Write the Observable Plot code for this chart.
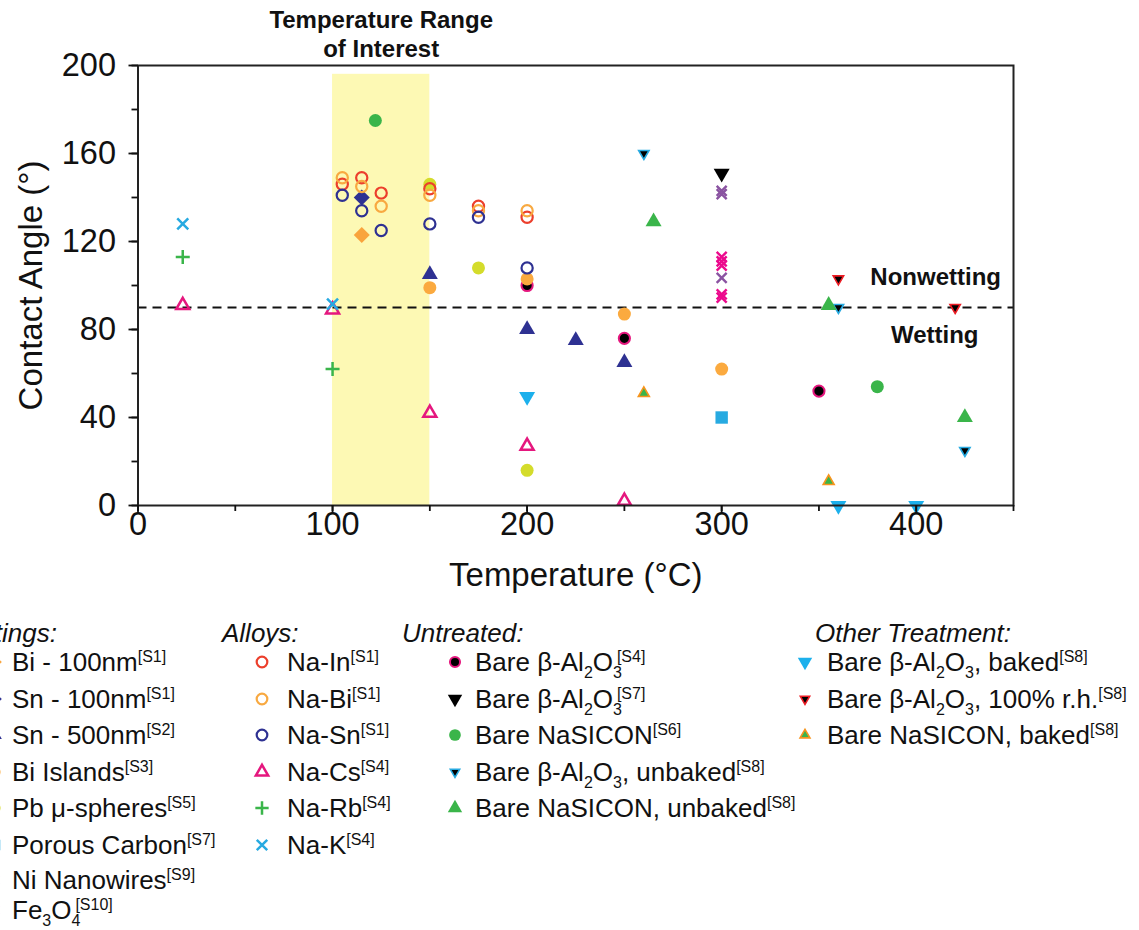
<!DOCTYPE html>
<html><head><meta charset="utf-8">
<script src="https://cdn.jsdelivr.net/npm/d3@7"></script>
<script src="https://cdn.jsdelivr.net/npm/@observablehq/plot@0.6"></script>
<style>
html,body{margin:0;padding:0;background:#fff;overflow:hidden;}
body{width:1139px;height:930px;font-family:"Liberation Sans",Arial,sans-serif;}
#chart svg{display:block;}
#legend{position:relative;width:1139px;height:330px;overflow:hidden;}
.lg{position:absolute;white-space:nowrap;font-size:26px;line-height:26px;color:#111;}
.hd{font-style:italic;}
.lg sup,.lg sub{font-size:16px;line-height:0;}
.lg sup{vertical-align:9px;}
.lg sub{vertical-align:-7px;}
.lg sup.stk{margin-left:-5px;}
.mk{position:absolute;overflow:visible;}
</style></head><body>
<div id="chart"></div><div id="legend"></div>
<script>
// ---------------- data ----------------
const xTicks = [0, 100, 200, 300, 400];
const xMinorTicks = [0, 50, 100, 150, 200, 250, 300, 350, 400, 450];
const yTicks = [0, 40, 80, 120, 160, 200];
const yMinorTicks = [0, 20, 40, 60, 80, 100, 120, 140, 160, 180, 200];
const interestRange = [100, 150];
const wettingLine = [90];

// Coatings: [temperature °C, contact angle °]
const bi100nm = [[115, 123]];
const sn100nm = [[115, 140]];
const sn500nm = [[150, 105], [200, 80], [225, 75], [250, 65]];
const biIslands = [[150, 99], [200, 103], [250, 87], [300, 62]];
const pbSpheres = [[150, 146], [175, 108], [200, 16]];
const porousCarbon = [[300, 40]];
const niNanowires = [[300, 143], [300, 141.5], [300, 103.5]];
const fe3o4 = [[300, 113], [300, 111], [300, 109], [300, 96], [300, 94.5]];
// Alloys
const naIn = [[105, 146], [115, 149], [125, 142], [150, 144], [175, 136], [200, 131]];
const naBi = [[105, 149], [115, 145], [125, 136], [150, 141], [175, 134], [200, 134]];
const naSn = [[105, 141], [115, 134], [125, 125], [150, 128], [175, 131], [200, 108]];
const naCs = [[23, 91], [100, 89], [150, 42], [200, 27], [250, 2]];
const naRb = [[23, 113], [100, 62]];
const naK = [[23, 128], [100, 91.5]];
// Untreated
const bareAlS4 = [[200, 100], [250, 76], [350, 52]];
const bareAlS7 = [[300, 151]];
const bareNasiconS6 = [[122, 175], [380, 54]];
const bareAlUnbaked = [[260, 160], [360, 90], [425, 25]];
const bareNasiconUnbaked = [[265, 129], [355, 91], [425, 40]];
// Other treatment
const bareAlBaked = [[200, 49.5], [360, 0], [400, 0]];
const bareAlHumid = [[360, 103], [420, 90]];
const bareNasiconBaked = [[260, 51], [355, 11]];

// legend texts
const coatingKeys = ["bi100nm","sn100nm","sn500nm","biIslands","pbSpheres","porousCarbon","niNanowires","fe3o4"];
const coatingLabels = ["Bi - 100nm","Sn - 100nm","Sn - 500nm","Bi Islands","Pb μ-spheres","Porous Carbon","Ni Nanowires","Fe<sub>3</sub>O<sub>4</sub>"];
const coatingRefs = ["S1","S1","S2","S3","S5","S7","S9","S10"];
const alloyKeys = ["naIn","naBi","naSn","naCs","naRb","naK"];
const alloyLabels = ["Na-In","Na-Bi","Na-Sn","Na-Cs","Na-Rb","Na-K"];
const alloyRefs = ["S1","S1","S1","S4","S4","S4"];
const untreatedKeys = ["bareAlS4","bareAlS7","bareNasiconS6","bareAlUnbaked","bareNasiconUnbaked"];
const untreatedLabels = ["Bare β-Al<sub>2</sub>O<sub>3</sub>","Bare β-Al<sub>2</sub>O<sub>3</sub>","Bare NaSICON","Bare β-Al<sub>2</sub>O<sub>3</sub>, unbaked","Bare NaSICON, unbaked"];
const untreatedRefs = ["S4","S7","S6","S8","S8"];
const otherKeys = ["bareAlBaked","bareAlHumid","bareNasiconBaked"];
const otherLabels = ["Bare β-Al<sub>2</sub>O<sub>3</sub>, baked","Bare β-Al<sub>2</sub>O<sub>3</sub>, 100% r.h.","Bare NaSICON, baked"];
const otherRefs = ["S8","S8","S8"];

// ---------------- symbols & styles ----------------
const rad = s => Math.sqrt(s / Math.PI);
const SYM = {
  circle: {draw(c, s) { const r = rad(s); c.moveTo(r, 0); c.arc(0, 0, r, 0, 2 * Math.PI); }},
  triUp: {draw(c, s) { const r = rad(s), h = Math.sqrt(3) * r; c.moveTo(0, -2 * h / 3); c.lineTo(r, h / 3); c.lineTo(-r, h / 3); c.closePath(); }},
  triDown: {draw(c, s) { const r = rad(s), h = Math.sqrt(3) * r; c.moveTo(0, 2 * h / 3); c.lineTo(r, -h / 3); c.lineTo(-r, -h / 3); c.closePath(); }},
  diamond: {draw(c, s) { const r = rad(s); c.moveTo(0, -r); c.lineTo(r, 0); c.lineTo(0, r); c.lineTo(-r, 0); c.closePath(); }},
  square: {draw(c, s) { const r = rad(s); c.rect(-r, -r, 2 * r, 2 * r); }},
  plus: {draw(c, s) { const r = rad(s); c.moveTo(-r, 0); c.lineTo(r, 0); c.moveTo(0, -r); c.lineTo(0, r); }},
  times: {draw(c, s) { const r = rad(s); c.moveTo(-r, -r); c.lineTo(r, r); c.moveTo(-r, r); c.lineTo(r, -r); }}
};
const styles = {
  bi100nm: {symbol: "diamond", r: 8, fill: "#f9a43c", stroke: "none", sw: 0},
  sn100nm: {symbol: "diamond", r: 8, fill: "#2e3192", stroke: "none", sw: 0},
  sn500nm: {symbol: "triUp", r: 8, fill: "#2e3192", stroke: "none", sw: 0},
  biIslands: {symbol: "circle", r: 6.5, fill: "#fbaa3f", stroke: "none", sw: 0},
  pbSpheres: {symbol: "circle", r: 6.5, fill: "#d4dc2b", stroke: "none", sw: 0},
  porousCarbon: {symbol: "square", r: 6.2, fill: "#27aae1", stroke: "none", sw: 0},
  niNanowires: {symbol: "times", r: 5, fill: "none", stroke: "#8a53a1", sw: 2.4},
  fe3o4: {symbol: "times", r: 5, fill: "none", stroke: "#ec098d", sw: 2.4},
  naIn: {symbol: "circle", r: 5.6, fill: "none", stroke: "#ec3f2c", sw: 2.2},
  naBi: {symbol: "circle", r: 5.6, fill: "none", stroke: "#f8a941", sw: 2.2},
  naSn: {symbol: "circle", r: 5.6, fill: "none", stroke: "#2e3192", sw: 2.2},
  naCs: {symbol: "triUp", r: 6.5, fill: "none", stroke: "#e5177e", sw: 2.5},
  naRb: {symbol: "plus", r: 7, fill: "none", stroke: "#3ab54a", sw: 2.5},
  naK: {symbol: "times", r: 5.5, fill: "none", stroke: "#27aae1", sw: 2.5},
  bareAlS4: {symbol: "circle", r: 5.6, fill: "#000", stroke: "#e5177e", sw: 2},
  bareAlS7: {symbol: "triDown", r: 8, fill: "#000", stroke: "none", sw: 0},
  bareNasiconS6: {symbol: "circle", r: 6.5, fill: "#3ab54a", stroke: "none", sw: 0},
  bareAlUnbaked: {symbol: "triDown", r: 5.2, fill: "#000", stroke: "#27aae1", sw: 1.6},
  bareNasiconUnbaked: {symbol: "triUp", r: 8, fill: "#3ab54a", stroke: "none", sw: 0},
  bareAlBaked: {symbol: "triDown", r: 8, fill: "#1cb0ec", stroke: "none", sw: 0},
  bareAlHumid: {symbol: "triDown", r: 5.2, fill: "#000", stroke: "#ed1c24", sw: 1.6},
  bareNasiconBaked: {symbol: "triUp", r: 5.5, fill: "#3ab54a", stroke: "#f7941d", sw: 1.6}
};
const seriesData = {bi100nm, sn100nm, sn500nm, biIslands, pbSpheres, porousCarbon, niNanowires, fe3o4,
  naIn, naBi, naSn, naCs, naRb, naK, bareAlS4, bareAlS7, bareNasiconS6, bareAlUnbaked, bareNasiconUnbaked,
  bareAlBaked, bareAlHumid, bareNasiconBaked};
const drawOrder = [...otherKeys, ...untreatedKeys, ...coatingKeys, ...alloyKeys];

const dotMarks = drawOrder.map(k => {
  const st = styles[k];
  return Plot.dot(seriesData[k], {
    x: d => d[0], y: d => d[1], symbol: SYM[st.symbol], r: st.r,
    fill: st.fill, stroke: st.stroke, strokeWidth: st.sw
  });
});

const FONT = "'Liberation Sans', Arial, sans-serif";
const chart = Plot.plot({
  width: 1139, height: 600,
  marginLeft: 137.5, marginRight: 126, marginTop: 65, marginBottom: 95,
  x: {domain: [0, 450]},
  y: {domain: [0, 200]},
  style: {fontFamily: FONT, color: "#111", background: "white", overflow: "visible"},
  marks: [
    Plot.rect([interestRange], {x1: d => d[0], x2: d => d[1], y1: 0, y2: 196, fill: "#fdf9b4"}),
    Plot.ruleY(wettingLine, {stroke: "#111", strokeWidth: 2.2, strokeDasharray: "9,6"}),
    ...dotMarks,
    Plot.frame({stroke: "#222", strokeWidth: 2}),
    Plot.axisY(yTicks, {tickSize: 9, tickPadding: 13, fontSize: 32.5, strokeWidth: 1.8, label: null}),
    Plot.axisY(yMinorTicks, {tickSize: 6, text: null, strokeWidth: 1.8, label: null}),
    Plot.axisX(xTicks, {tickSize: 9, tickPadding: -3, fontSize: 32.5, strokeWidth: 1.8, label: null}),
    Plot.axisX(xMinorTicks, {tickSize: 6, text: null, strokeWidth: 1.8, label: null}),
    Plot.text(["Temperature (°C)"], {frameAnchor: "bottom", dy: 80, fontSize: 33, fill: "#111"}),
    Plot.text(["Contact Angle (°)"], {frameAnchor: "left", textAnchor: "middle", dx: -107, rotate: -90, fontSize: 33, fill: "#111"}),
    Plot.text(["Temperature Range\nof Interest"], {x: (interestRange[0] + interestRange[1]) / 2, frameAnchor: "top", dy: -58, lineAnchor: "top", lineHeight: 1.2, fontSize: 24, fontWeight: "bold", fill: "#111"}),
    Plot.text(["Nonwetting"], {x: 410, y: 103.5, fontSize: 24, fontWeight: "bold", fill: "#111"}),
    Plot.text(["Wetting"], {x: 409.5, y: 77.3, fontSize: 24, fontWeight: "bold", fill: "#111"})
  ]
});
document.getElementById("chart").appendChild(chart);

// ---------------- legend ----------------
const legend = document.getElementById("legend");
const TOP = 600;
function addText(html, left, cy, cls, rightAnchor) {
  const d = document.createElement("div");
  d.className = "lg " + (cls || "");
  d.innerHTML = html;
  d.style.left = left + "px";
  d.style.top = (cy - TOP - 13) + "px";
  if (rightAnchor) d.style.transform = "translateX(-100%)";
  legend.appendChild(d);
}
function addMarker(key, cx, cy, scale) {
  const st = styles[key];
  const r = st.r * scale;
  const p = d3.symbol(SYM[st.symbol], Math.PI * r * r)();
  const ns = "http://www.w3.org/2000/svg";
  const svg = document.createElementNS(ns, "svg");
  svg.setAttribute("class", "mk");
  svg.setAttribute("width", 30); svg.setAttribute("height", 30);
  svg.setAttribute("viewBox", "-15 -15 30 30");
  svg.style.left = (cx - 15) + "px"; svg.style.top = (cy - TOP - 15) + "px";
  const path = document.createElementNS(ns, "path");
  path.setAttribute("d", p);
  path.setAttribute("fill", st.fill);
  path.setAttribute("stroke", st.stroke);
  path.setAttribute("stroke-width", st.sw);
  svg.appendChild(path);
  legend.appendChild(svg);
}
function refHtml(label, ref) {
  const stacked = /<\/sub>$/.test(label);
  return label + `<sup${stacked ? ' class="stk"' : ''}>[${ref}]</sup>`;
}
const rowsY = [662, 699, 735, 772, 808, 845, 880, 910];
const headerY = 633;
// Coatings column (cut at left edge)
addText("Coatings:", 57, headerY, "hd", true);
coatingKeys.forEach((k, i) => { addMarker(k, -5, rowsY[i], 0.85); addText(refHtml(coatingLabels[i], coatingRefs[i]), 12, rowsY[i]); });
// Alloys
addText("Alloys:", 222, headerY, "hd");
alloyKeys.forEach((k, i) => { addMarker(k, 262, rowsY[i], 0.95); addText(refHtml(alloyLabels[i], alloyRefs[i]), 287, rowsY[i]); });
// Untreated
addText("Untreated:", 402, headerY, "hd");
untreatedKeys.forEach((k, i) => { addMarker(k, 455, rowsY[i], 0.9); addText(refHtml(untreatedLabels[i], untreatedRefs[i]), 475, rowsY[i]); });
// Other treatment
addText("Other Treatment:", 815, headerY, "hd");
otherKeys.forEach((k, i) => { addMarker(k, 805, rowsY[i], 0.9); addText(refHtml(otherLabels[i], otherRefs[i]), 827, rowsY[i]); });
</script>
</body></html>
